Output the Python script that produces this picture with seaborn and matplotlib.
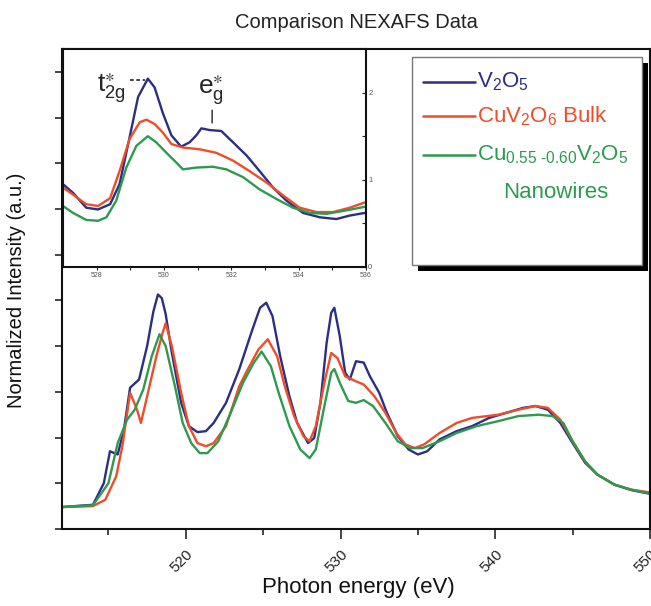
import matplotlib
matplotlib.use("Agg")
import matplotlib.pyplot as plt
from matplotlib.patches import Rectangle
from matplotlib.lines import Line2D
import numpy as np
import pandas as pd
import seaborn as sns

# ---------------- data (main panel) ----------------
v2o5_e = [512.0, 514.0, 514.7, 515.1, 515.6, 516.0, 516.4, 516.98, 517.5, 517.9, 518.2, 518.45, 518.7, 519.1, 519.7,
          520.2, 520.75, 521.3, 521.8, 522.6, 523.45, 524.3, 524.8, 525.2, 525.6, 526.1, 526.7, 527.2,
          527.9, 528.3, 528.7, 529.1, 529.4, 529.6, 529.95, 530.3, 530.6, 531.0, 531.5, 531.9, 532.5,
          533.0, 533.7, 534.4, 535.0, 535.6, 536.4, 537.5, 538.5, 539.6, 540.7, 541.8, 542.6, 543.4,
          544.2, 545.0, 545.8, 546.6, 547.7, 548.8, 550.0]
v2o5_i = [0.48, 0.53, 1.0, 1.70, 1.63, 2.17, 3.09, 3.27, 4.0, 4.75, 5.13, 5.05, 4.7, 3.85, 2.76,
          2.25, 2.12, 2.14, 2.32, 2.76, 3.49, 4.36, 4.84, 4.95, 4.66, 3.78, 2.9, 2.32,
          1.88, 1.99, 2.76, 4.07, 4.73, 4.84, 4.22, 3.42, 3.27, 3.67, 3.64, 3.34, 2.98,
          2.54, 2.03, 1.74, 1.63, 1.70, 1.96, 2.14, 2.25, 2.43, 2.54, 2.65, 2.69, 2.61,
          2.32, 1.88, 1.45, 1.19, 0.97, 0.85, 0.77]

cuv2o6_e = [512.0, 514.0, 514.8, 515.5, 515.9, 516.4, 516.85, 517.1, 517.5, 518.1, 518.5, 518.7, 519.1,
            519.7, 520.2, 520.75, 521.3, 521.8, 522.6, 523.45, 524.0, 524.7, 525.3, 525.9, 526.4, 527.0,
            527.6, 528.0, 528.4, 529.0, 529.4, 529.8, 530.3, 531.0, 531.5, 532.2, 532.9, 533.6, 534.2,
            534.8, 535.4, 536.4, 537.5, 538.5, 540.2, 541.5, 542.6, 543.4, 544.2, 545.0, 545.8, 546.6,
            547.7, 548.8, 550.0]
cuv2o6_i = [0.48, 0.50, 0.64, 1.15, 1.81, 2.98, 2.61, 2.32, 2.9, 3.78, 4.29, 4.5, 4.0,
            2.98, 2.25, 1.88, 1.81, 1.88, 2.25, 3.12, 3.49, 3.93, 4.15, 3.78, 3.12, 2.47,
            2.03, 1.92, 2.25, 3.27, 3.85, 3.74, 3.34, 3.23, 3.16, 2.9, 2.54, 2.1, 1.85,
            1.77, 1.85, 2.1, 2.32, 2.43, 2.5, 2.61, 2.69, 2.65, 2.39, 1.92, 1.48, 1.19,
            0.97, 0.86, 0.80]

nano_e = [512.0, 514.0, 515.0, 515.6, 516.2, 516.7, 517.25, 517.8, 518.3, 518.7, 519.3, 519.8, 520.35,
          520.9, 521.4, 522.1, 522.9, 523.7, 524.4, 524.9, 525.5, 526.0, 526.7, 527.4, 528.0, 528.4,
          529.0, 529.4, 529.6, 529.95, 530.5, 531.0, 531.5, 532.1, 532.9, 533.7, 534.5, 535.3, 536.4,
          537.5, 538.8, 540.2, 541.5, 542.8, 543.7, 544.4, 545.0, 545.8, 546.6, 547.7, 548.8, 550.0]
nano_i = [0.48, 0.52, 1.0, 1.88, 2.39, 2.61, 3.05, 3.78, 4.26, 4.0, 3.12, 2.32, 1.88,
          1.66, 1.66, 1.92, 2.54, 3.2, 3.64, 3.88, 3.56, 2.98, 2.25, 1.74, 1.55, 1.74,
          2.76, 3.42, 3.5, 3.2, 2.8, 2.76, 2.82, 2.69, 2.32, 1.92, 1.77, 1.77, 1.92,
          2.1, 2.25, 2.36, 2.47, 2.5, 2.47, 2.32, 1.92, 1.48, 1.19, 0.97, 0.86, 0.78]

# ---------------- data (inset, 527-536 eV) ----------------
in_v2o5_e = [527.0, 527.3, 527.69, 528.04, 528.4, 528.68, 528.98, 529.23, 529.52, 529.72, 529.97, 530.22,
             530.51, 530.76, 530.96, 531.11, 531.36, 531.7, 532.05, 532.45, 532.84, 533.24, 533.64,
             534.13, 534.63, 535.12, 535.52, 535.96]
in_v2o5_i = [0.95, 0.85, 0.68, 0.66, 0.72, 0.95, 1.49, 1.95, 2.16, 2.06, 1.76, 1.51,
             1.38, 1.43, 1.51, 1.59, 1.57, 1.56, 1.43, 1.28, 1.10, 0.91, 0.76,
             0.62, 0.57, 0.55, 0.59, 0.62]
in_cuv2o6_e = [527.0, 527.3, 527.69, 528.04, 528.4, 528.68, 528.98, 529.28, 529.48, 529.72, 529.97, 530.22,
               530.56, 531.06, 531.55, 532.05, 532.54, 533.04, 533.54, 534.03, 534.53, 535.02, 535.52, 535.96]
in_cuv2o6_i = [0.91, 0.83, 0.72, 0.70, 0.79, 1.10, 1.47, 1.66, 1.69, 1.64, 1.54, 1.41,
               1.37, 1.35, 1.31, 1.22, 1.10, 0.97, 0.82, 0.68, 0.63, 0.63, 0.68, 0.74]
in_nano_e = [527.0, 527.3, 527.69, 528.04, 528.29, 528.58, 528.88, 529.18, 529.52, 529.77, 530.07, 530.36,
             530.56, 530.96, 531.45, 531.85, 532.35, 532.84, 533.34, 533.83, 534.33, 534.83, 535.42, 535.96]
in_nano_i = [0.70, 0.62, 0.54, 0.53, 0.57, 0.76, 1.14, 1.39, 1.50, 1.43, 1.31, 1.20,
             1.12, 1.14, 1.15, 1.12, 1.03, 0.89, 0.78, 0.68, 0.62, 0.61, 0.65, 0.69]

series_names = ["V2O5", "CuV2O6 Bulk", "Cu0.55-0.60V2O5 Nanowires"]
colors = ["#2c2e86", "#ef4d2a", "#2e9a50"]
x_tick_labels = ["520", "530", "540", "550"]
inset_x_labels = ["528", "530", "532", "534", "536"]
inset_y_labels = ["0", "1", "2"]

main_df = pd.concat([
    pd.DataFrame({"energy": v2o5_e, "intensity": v2o5_i, "sample": series_names[0]}),
    pd.DataFrame({"energy": cuv2o6_e, "intensity": cuv2o6_i, "sample": series_names[1]}),
    pd.DataFrame({"energy": nano_e, "intensity": nano_i, "sample": series_names[2]}),
], ignore_index=True)
inset_df = pd.concat([
    pd.DataFrame({"energy": in_v2o5_e, "intensity": in_v2o5_i, "sample": series_names[0]}),
    pd.DataFrame({"energy": in_cuv2o6_e, "intensity": in_cuv2o6_i, "sample": series_names[1]}),
    pd.DataFrame({"energy": in_nano_e, "intensity": in_nano_i, "sample": series_names[2]}),
], ignore_index=True)

sns.set_style("ticks")
plt.rcParams["font.family"] = ["Liberation Sans", "DejaVu Sans"]
plt.rcParams["mathtext.fontset"] = "custom"
plt.rcParams["mathtext.rm"] = "Liberation Sans"
plt.rcParams["mathtext.it"] = "Liberation Sans"
plt.rcParams["mathtext.bf"] = "Liberation Sans:bold"

W, H = 651, 606
fig = plt.figure(figsize=(W / 100, H / 100), dpi=100)
fig.patch.set_facecolor("white")

def fx(px):
    return px / W

def fy(py):
    return 1 - py / H

palette = dict(zip(series_names, colors))

# ---------------- main axes ----------------
ax = fig.add_axes([fx(62), fy(529), fx(650) - fx(62), fy(49) - fy(529)])
sns.lineplot(data=main_df, x="energy", y="intensity", hue="sample", palette=palette,
             sort=False, estimator=None, linewidth=1.7, legend=False, ax=ax)
ax.set_xlim(512, 550)
ax.set_ylim(0, 10.5)
ax.set_xticks([520, 530, 540, 550])
ax.set_xticks([515, 525, 535, 545], minor=True)
ax.set_xticklabels(x_tick_labels, rotation=45, ha="right", rotation_mode="anchor", fontsize=11, color="#222222")
ax.set_yticks(np.arange(0, 11, 1))
ax.set_yticklabels([])
ax.tick_params(axis="x", which="major", length=7, width=1.2, pad=6)
ax.tick_params(axis="x", which="minor", length=4, width=1.2)
ax.tick_params(axis="y", length=5, width=1.2)
ax.set_xlabel("")
ax.set_ylabel("")
for s in ax.spines.values():
    s.set_linewidth(1.5)
    s.set_color("#111111")

# ---------------- inset ----------------
axi = fig.add_axes([fx(63), fy(267), fx(366) - fx(63), fy(49) - fy(267)])
axi.set_facecolor("white")
sns.lineplot(data=inset_df, x="energy", y="intensity", hue="sample", palette=palette,
             sort=False, estimator=None, linewidth=1.7, legend=False, ax=axi)
axi.set_xlim(527, 536)
axi.set_ylim(0, 2.5)
axi.set_xticks([528, 530, 532, 534, 536])
axi.set_xticks([529, 531, 533, 535], minor=True)
axi.set_xticklabels(inset_x_labels, fontsize=5, color="#555555")
axi.yaxis.tick_right()
axi.set_yticks([0, 1, 2])
axi.set_yticks([0.5, 1.5], minor=True)
axi.set_yticklabels(inset_y_labels, fontsize=5.5, color="#555555")
axi.tick_params(axis="x", which="both", length=2, width=0.8, pad=1.5, direction="out")
axi.tick_params(axis="y", which="both", length=3, width=0.8, pad=1.5, direction="in")
axi.set_xlabel("")
axi.set_ylabel("")
for s in axi.spines.values():
    s.set_linewidth(1.5)
    s.set_color("#111111")

# annotations inside inset
axi.text(528.0, 2.0, r"$\mathregular{t_{2g}^{\ast}}$", fontsize=19, va="baseline", ha="left")
axi.plot([529.0, 529.45], [2.14, 2.14], color="#222222", lw=1.2, ls=(0, (2.2, 1.6)))
axi.text(531.0, 1.97, r"$\mathregular{e_{g}^{\ast}}$", fontsize=19, va="baseline", ha="left")
axi.annotate("", xy=(531.43, 1.62), xytext=(531.43, 1.83),
             arrowprops=dict(arrowstyle="-", color="#222222", lw=1.0))

# ---------------- legend box ----------------
shadow = Rectangle((fx(418), fy(271)), fx(648) - fx(418), fy(63) - fy(271),
                   transform=fig.transFigure, facecolor="black", edgecolor="none", zorder=10)
box = Rectangle((fx(412), fy(265)), fx(642) - fx(412), fy(57) - fy(265),
                transform=fig.transFigure, facecolor="white", edgecolor="#777777", linewidth=1.0, zorder=11)
fig.add_artist(shadow)
fig.add_artist(box)

legend_labels = [r"$\mathregular{V_2O_5}$", r"$\mathregular{CuV_2O_6\ Bulk}$",
                 r"$\mathregular{Cu_{0.55\ \text{-}0.60}V_2O_5}$"]
legend_y = [82, 116, 155]
for lab, col, yy in zip(legend_labels, colors, legend_y):
    fig.add_artist(Line2D([fx(423), fx(475)], [fy(yy), fy(yy)], transform=fig.transFigure,
                          color=col, linewidth=1.8, zorder=12))
    fig.text(fx(477), fy(yy), lab, color=col, fontsize=16, ha="left", va="center", zorder=12)
fig.text(fx(556), fy(192), "Nanowires", color=colors[2], fontsize=16, ha="center", va="center", zorder=12)

# ---------------- titles / labels ----------------
fig.text(fx(356), fy(22), "Comparison NEXAFS Data", fontsize=14.5, ha="center", va="center", color="#222222")
fig.text(fx(358), fy(588), "Photon energy (eV)", fontsize=16, ha="center", va="center", color="#111111")
fig.text(fx(17), fy(290), "Normalized Intensity (a.u.)", fontsize=14.5, rotation=90,
         ha="center", va="center", color="#111111")

fig.savefig("out.png", dpi=100, facecolor="white")
